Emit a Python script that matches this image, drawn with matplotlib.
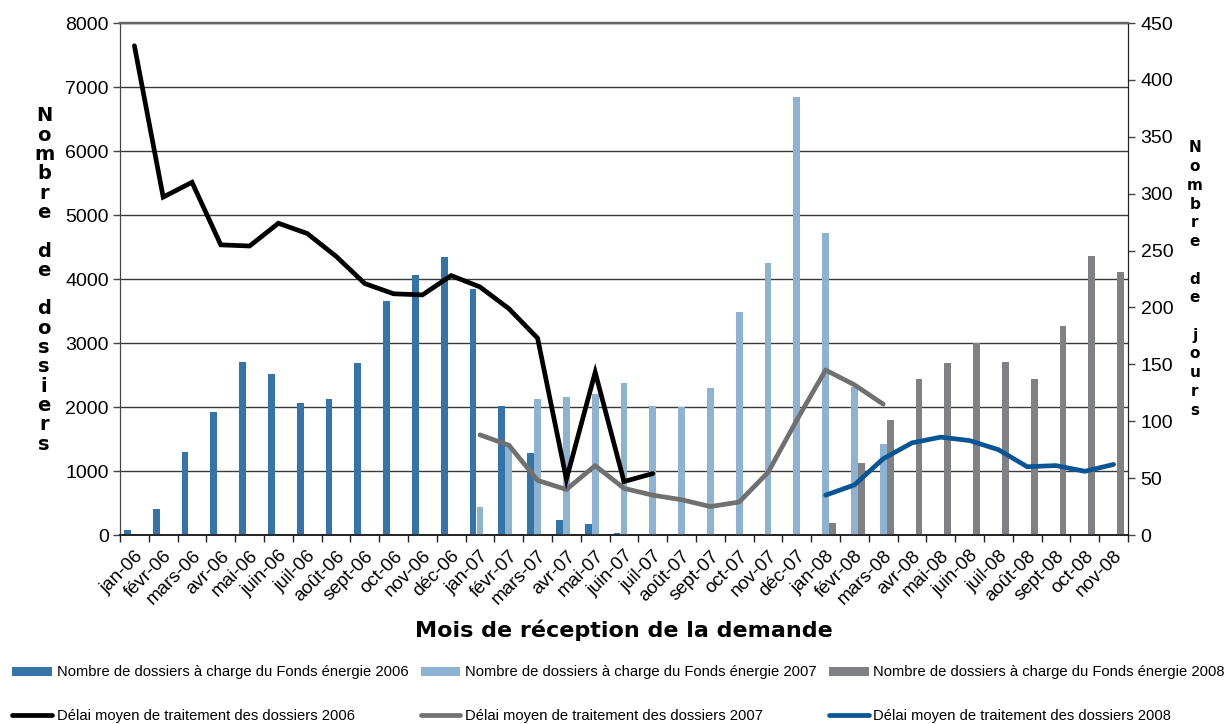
import numpy as np
import matplotlib
matplotlib.use("Agg")
import matplotlib.pyplot as plt
from matplotlib.ticker import MultipleLocator, FixedLocator, NullFormatter

months = ["jan-06", "févr-06", "mars-06", "avr-06", "mai-06", "juin-06", "juil-06", "août-06",
          "sept-06", "oct-06", "nov-06", "déc-06",
          "jan-07", "févr-07", "mars-07", "avr-07", "mai-07", "juin-07", "juil-07", "août-07",
          "sept-07", "oct-07", "nov-07", "déc-07",
          "jan-08", "févr-08", "mars-08", "avr-08", "mai-08", "juin-08", "juil-08", "août-08",
          "sept-08", "oct-08", "nov-08"]

# Nombre de dossiers (left axis); each series starts at a given month index
dossiers_2006_start = 0
dossiers_2006 = [80, 400, 1290, 1920, 2700, 2520, 2070, 2130, 2680, 3650, 4060, 4345,
                 3840, 2020, 1280, 230, 165, 28]
dossiers_2007_start = 12
dossiers_2007 = [430, 1410, 2130, 2160, 2210, 2380, 2010, 2000, 2290, 3480, 4250, 6840,
                 4720, 2310, 1420]
dossiers_2008_start = 24
dossiers_2008 = [195, 1125, 1800, 2430, 2680, 3000, 2710, 2430, 3260, 4360, 4110]

# Délai moyen (right axis, jours)
delai_2006_start = 0
delai_2006 = [430, 297, 310, 255, 254, 274, 265, 245, 221, 212, 211, 228,
              218, 199, 173, 49, 143, 47, 54]
delai_2007_start = 12
delai_2007 = [88, 79, 48, 40, 61, 41, 35, 31, 25, 29, 55, 101, 145, 132, 115]
delai_2008_start = 24
delai_2008 = [35, 44, 67, 81, 86, 83, 75, 60, 61, 56, 62]

label_bar_2006 = "Nombre de dossiers à charge du Fonds énergie 2006"
label_bar_2007 = "Nombre de dossiers à charge du Fonds énergie 2007"
label_bar_2008 = "Nombre de dossiers à charge du Fonds énergie 2008"
label_line_2006 = "Délai moyen de traitement des dossiers 2006"
label_line_2007 = "Délai moyen de traitement des dossiers 2007"
label_line_2008 = "Délai moyen de traitement des dossiers 2008"

plt.rcParams['font.family'] = ['Liberation Sans', 'DejaVu Sans']

c_b06 = "#3574A9"
c_b07 = "#8EB2D2"
c_b08 = "#808184"
c_l06 = "#000000"
c_l07 = "#707070"
c_l08 = "#0A5596"

fig = plt.figure(figsize=(12.28, 7.24), dpi=100)
ax = fig.add_axes([120/1228, 1-535/724, (1128-120)/1228, (535-23)/724])
ax2 = ax.twinx()

bw = 0.236
off = 0.246

def xs(start, n):
    return np.arange(start, start + n)

ax.bar(xs(dossiers_2006_start, len(dossiers_2006)) - off, dossiers_2006, width=bw,
       color=c_b06, label=label_bar_2006, zorder=3)
ax.bar(xs(dossiers_2007_start, len(dossiers_2007)), dossiers_2007, width=bw,
       color=c_b07, label=label_bar_2007, zorder=3)
ax.bar(xs(dossiers_2008_start, len(dossiers_2008)) + off, dossiers_2008, width=bw,
       color=c_b08, label=label_bar_2008, zorder=3)

lw = 3.4
ax2.plot(xs(delai_2007_start, len(delai_2007)), delai_2007, color=c_l07, lw=lw,
         label=label_line_2007, zorder=3, solid_capstyle='round', solid_joinstyle='round')
ax2.plot(xs(delai_2006_start, len(delai_2006)), delai_2006, color=c_l06, lw=lw,
         label=label_line_2006, zorder=4, solid_capstyle='round', solid_joinstyle='miter')
ax2.plot(xs(delai_2008_start, len(delai_2008)), delai_2008, color=c_l08, lw=lw,
         label=label_line_2008, zorder=4, solid_capstyle='round', solid_joinstyle='round')

n = len(months)
ax.set_xlim(-0.5, n - 0.5)
ax.set_ylim(0, 8000)
ax2.set_ylim(0, 450)

ax.yaxis.set_major_locator(MultipleLocator(1000))
ax2.yaxis.set_major_locator(MultipleLocator(50))
ax.grid(axis='y', color='#3a3a3a', lw=1.0, zorder=0)
ax.set_axisbelow(True)

# x ticks at category boundaries, labels at centers
ax.xaxis.set_major_locator(FixedLocator(np.arange(-0.5, n, 1.0)))
ax.xaxis.set_major_formatter(NullFormatter())
ax.xaxis.set_minor_locator(FixedLocator(np.arange(n)))
ax.set_xticklabels(months, minor=True, rotation=45, ha='right', rotation_mode='anchor',
                   fontsize=13.5)
ax.tick_params(axis='x', which='major', length=5, width=1, color='#222222', direction='out')
ax.tick_params(axis='x', which='minor', length=0, pad=9)
ax.tick_params(axis='y', length=5, width=1, color='#444444', labelsize=14, pad=3)
ax2.tick_params(axis='y', length=5, width=1, color='#444444', labelsize=14, pad=4)

for a in (ax, ax2):
    a.spines['top'].set_visible(True)
    a.spines['top'].set_color('#666666')
    a.spines['top'].set_linewidth(1.6)
    a.spines['left'].set_color('#444444')
    a.spines['right'].set_color('#222222')
    a.spines['bottom'].set_color('#222222')
    a.spines['bottom'].set_linewidth(1.2)

ax.set_xlabel("Mois de réception de la demande", fontsize=16, fontweight='heavy',
              family='DejaVu Sans', labelpad=8)

left_label = "\n".join(list("Nombre de dossiers"))
right_label = "\n".join(list("Nombre de jours"))
fig.text(44/1228, 1-280/724, left_label, fontsize=14, fontweight='heavy', family='DejaVu Sans',
         ha='center', va='center', linespacing=1.02)
fig.text(1195/1228, 1-279/724, right_label, fontsize=11, fontweight='heavy', family='DejaVu Sans',
         ha='center', va='center', linespacing=1.31)

h1, l1 = ax.get_legend_handles_labels()
h2, l2 = ax2.get_legend_handles_labels()
hmap = dict(zip(l1 + l2, h1 + h2))
order = [label_bar_2006, label_line_2006, label_bar_2007, label_line_2007,
         label_bar_2008, label_line_2008]
fig.legend([hmap[k] for k in order], order, ncol=3, loc='upper left',
           bbox_to_anchor=(8/1228, 1 - 661/724), frameon=False, fontsize=10.6,
           handlelength=2.7, handleheight=0.55, handletextpad=0.3,
           columnspacing=0.85, labelspacing=2.0, borderaxespad=0, borderpad=0.3)

fig.savefig("out.png", dpi=100)
